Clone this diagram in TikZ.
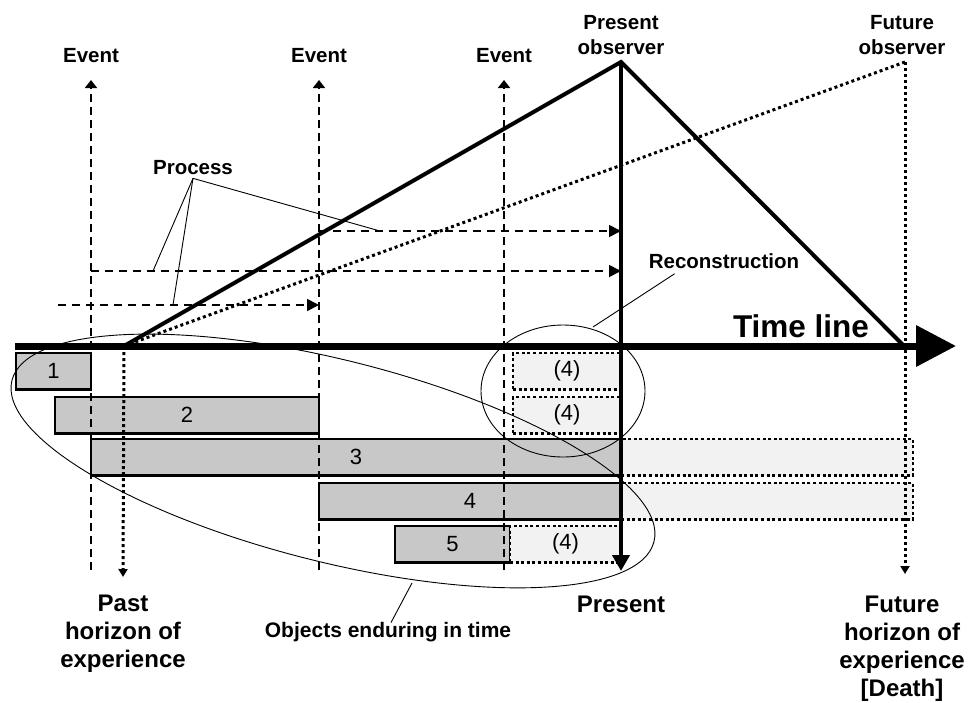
\documentclass[tikz,border=0pt]{standalone}
\usepackage{fontspec}
\setmainfont{Liberation Sans}
\usepackage{xcolor}
\usepackage{tikz}
\usetikzlibrary{positioning,arrows.meta,calc}

\definecolor{barfill}{RGB}{200,200,200}
\definecolor{ghostfill}{RGB}{242,242,242}

\begin{document}
\begin{tikzpicture}[x=1pt, y=-1pt,
    lbl/.style={font=\fontsize{20.5}{25}\selectfont\bfseries, inner sep=0pt, align=center},
    horizon/.style={font=\fontsize{24}{28}\selectfont\bfseries, inner sep=0pt, align=center},
    bar/.style={draw, line width=2.6pt, fill=barfill, inner sep=0pt, outer sep=0pt, anchor=north west,
        minimum height=36.5pt, font=\fontsize{22}{26}\selectfont},
    ghost/.style={bar, fill=ghostfill, dash pattern=on 3pt off 2.6pt},
    eventline/.style={line width=1.8pt, dash pattern=on 8pt off 5pt, -{Triangle[length=8pt,width=12pt]}},
    procline/.style={line width=1.8pt, dash pattern=on 8pt off 6pt, -{Triangle[length=12pt,width=12pt]}},
    dotline/.style={line width=3pt, dash pattern=on 3pt off 3pt},
    leader/.style={line width=0.9pt}]
    \useasboundingbox (0,0) rectangle (973,702);

    % time line and observers
    \coordinate (tlstart) at (15,346);
    \coordinate (tlend) at (956,346);
    \coordinate (pastpt) at (124,346);
    \coordinate (death) at (904,346);
    \coordinate (apex) at (621,62);
    \coordinate (futapex) at (905,62);
    \coordinate (presentend) at (621,571);
    \coordinate (pastend) at (123,577);
    \coordinate (futend) at (905,574);

    \draw[line width=7pt, -{Triangle[length=40pt,width=40pt]}] (tlstart) -- (tlend);
    \node[font=\fontsize{31.5}{36}\selectfont\bfseries, inner sep=0pt] (tllbl) at (801,326) {Time line};

    % objects enduring in time
    \node[bar, minimum width=75pt] (obj1) at (16,353) {1};
    \node[bar, minimum width=264pt] (obj2) at (55,397) {2};
    \node[bar, minimum width=530pt] (obj3) at (91,439) {3};
    \node[ghost, minimum width=292pt] (obj3f) at (621,439) {};
    \node[bar, minimum width=302pt] (obj4) at (319,483) {4};
    \node[ghost, minimum width=292pt] (obj4f) at (621,483) {};
    \node[bar, minimum width=115pt] (obj5) at (395,526) {5};
    \node[ghost, minimum width=111pt] (obj5r) at (510,526) {(4)};
    \node[ghost, minimum width=108pt] (rec1) at (513,353) {(4)};
    \node[ghost, minimum width=108pt] (rec2) at (513,397) {(4)};

    % events
    \foreach \x/\n in {91/a, 319/b, 504/c} {
        \coordinate (ev\n bot) at (\x,570);
        \coordinate (ev\n top) at (\x,80);
        \draw[eventline] (ev\n bot) -- (ev\n top);
        \node[lbl, above=17pt of ev\n top] (ev\n lbl) {Event};
    }

    % horizons and observer cones
    \draw[dotline, -{Triangle[length=8pt,width=9pt]}] (pastpt) -- (pastend);
    \draw[dotline] (pastpt) -- (futapex);
    \draw[dotline, -{Triangle[length=8pt,width=9pt]}] (futapex) -- (futend);
    \draw[line width=4pt, line join=miter] (pastpt) -- (apex) -- (death);
    \draw[line width=4pt, -{Triangle[length=16pt,width=17pt]}] (apex) -- (presentend);
    \node[lbl] (presobs) at (621,35) {Present\\observer};
    \node[lbl] (futobs) at (902,35) {Future\\observer};

    % processes
    \coordinate (pr1s) at (58,305);   \coordinate (pr1e) at (319,305);
    \coordinate (pr2s) at (91,271);   \coordinate (pr2e) at (621,271);
    \coordinate (pr3s) at (319,231);  \coordinate (pr3e) at (621,231);
    \draw[procline] (pr1s) -- (pr1e);
    \draw[procline] (pr2s) -- (pr2e);
    \draw[procline] (pr3s) -- (pr3e);
    \node[lbl] (proclbl) at (193,168) {Process};
    \coordinate (pp1) at (173,305);
    \coordinate (pp2) at (153,271);
    \coordinate (pp3) at (380,231);
    \foreach \p in {pp1,pp2,pp3}
        \draw[leader] ([yshift=-3pt]proclbl.south) -- (\p);

    % reconstruction
    \coordinate (recc) at (563,391);
    \draw[leader] (recc) ellipse [x radius=82, y radius=66];
    \node[lbl] (reclbl) at (724,261) {Reconstruction};
    \coordinate (recend) at (593,327);
    \draw[leader] ([xshift=26pt,yshift=-5pt]reclbl.south west) -- (recend);

    % objects ellipse
    \coordinate (objc) at (333,461);
    \draw[leader, rotate around={-14.1:(objc)}] (objc) ellipse [x radius=331, y radius=101];
    \node[lbl, anchor=base, font=\fontsize{21}{25}\selectfont\bfseries] (objlbl) at (388,637) {Objects enduring in time};
    \coordinate (objend) at (412,583);
    \draw[leader] ([xshift=3pt,yshift=-1pt]objlbl.north) -- (objend);

    % bottom labels
    \node[horizon, anchor=north] (pastlbl) at (123,595) {Past\\horizon of\\experience};
    \node[horizon, anchor=base] (presentlbl) at (621,612) {Present};
    \node[horizon, anchor=north] (futlbl) at (902,596) {Future\\horizon of\\experience\\{[Death]}};
\end{tikzpicture}
\end{document}
